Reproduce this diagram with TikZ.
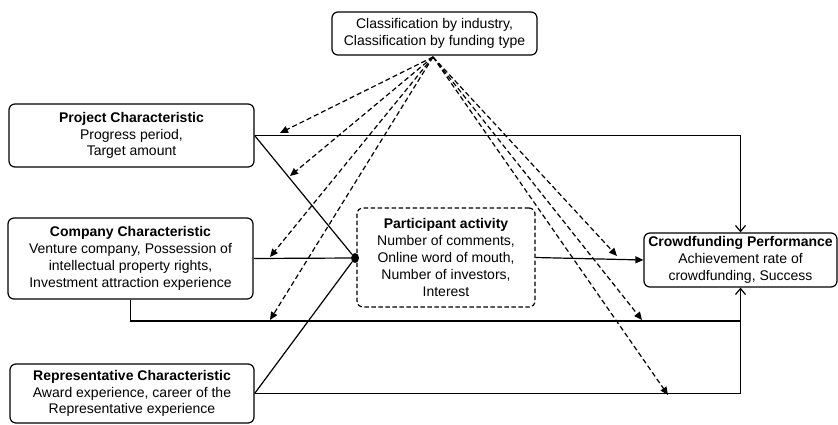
\documentclass[tikz,border=0pt]{standalone}
\usepackage{fontspec}
\setmainfont{Liberation Sans}
\usetikzlibrary{arrows.meta,calc,shapes.geometric}
\begin{document}
\begin{tikzpicture}[x=1pt,y=-1pt,
  box/.style={draw,line width=1.2pt,rounded corners=6pt,align=center,inner sep=0pt,
    font=\fontsize{14}{16.8}\selectfont},
  dbox/.style={box,dash pattern=on 4.5pt off 2.5pt},
  conn/.style={line width=1.2pt},
  dconn/.style={line width=1.2pt,dash pattern=on 5pt off 3pt,-{Triangle[length=8pt,width=7pt]}},
  tip/.style={-{Triangle[length=8pt,width=7pt]}},
  barb/.style={-{Straight Barb[length=6pt,width=10pt]}}]
\useasboundingbox (0,0) rectangle (838,425);

\node[box,minimum width=205pt,minimum height=43pt] (top) at (434.5,33.5)
  {Classification by industry,\\Classification by funding type};
\node[box,minimum width=245pt,minimum height=63pt] (proj) at (131.5,135.5)
  {\textbf{Project Characteristic}\\Progress period,\\Target amount};
\node[box,minimum width=245pt,minimum height=81pt] (comp) at (130.5,258.5)
  {\textbf{Company Characteristic}\\Venture company, Possession of\\intellectual property rights,\\Investment attraction experience};
\node[box,minimum width=244pt,minimum height=59pt] (rep) at (132,393.5)
  {\textbf{Representative Characteristic}\\Award experience, career of the\\Representative experience};
\node[dbox,minimum width=178pt,minimum height=99pt] (part) at (446,257.5)
  {\textbf{Participant activity}\\Number of comments,\\Online word of mouth,\\Number of investors,\\Interest};
\node[box,minimum width=193pt,minimum height=54pt] (perf) at (740.5,260)
  {\textbf{Crowdfunding Performance}\\Achievement rate of\\crowdfunding, Success};

\node[ellipse,fill=black,inner sep=0pt,minimum width=8pt,minimum height=10pt] (dot) at (355,258) {};

% solid connectors
\draw[conn] (proj.east) -- (dot);
\draw[conn] (comp.east) -- (dot);
\draw[conn] (rep.east) -- (dot);
\draw[conn,barb] (proj.east) -| (perf.north);
\draw[conn,tip] (part.east) -- (perf.west);
\coordinate (cb) at (0,321);
\draw[conn,barb] (comp.south) -- (comp.south |- cb) -| (perf.south);
\draw[conn] (rep.east) -| (perf.south);

% dashed moderating arrows
\coordinate (src) at (433,57);
\coordinate (t1) at (280,133);
\coordinate (t2) at (290,176);
\coordinate (t3) at (270,257);
\coordinate (t4) at (270,320);
\coordinate (t5) at (617,256);
\coordinate (t6) at (642,320);
\coordinate (t7) at (668,395);
\foreach \t in {t1,t2,t3,t4,t5,t6,t7}
  \draw[dconn] (src) -- (\t);
\end{tikzpicture}
\end{document}
